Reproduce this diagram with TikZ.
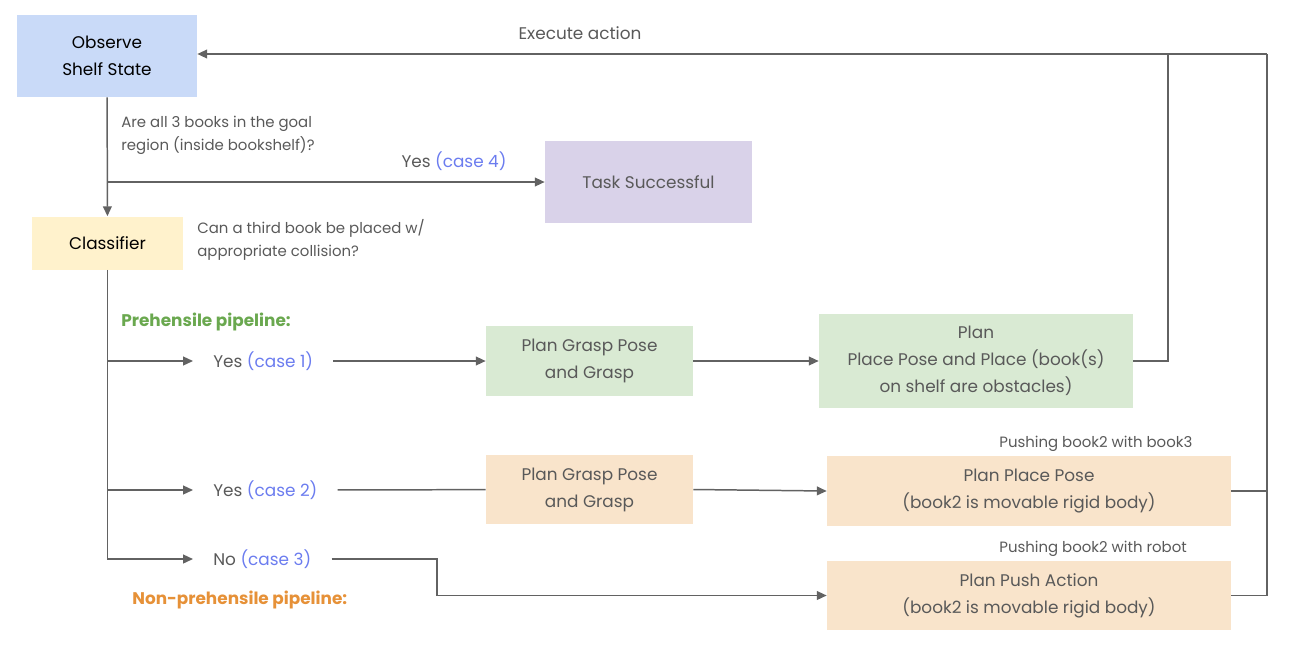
\documentclass[tikz,border=0pt]{standalone}
\usepackage{fontspec}
\setmainfont{Poppins}
\usepackage{tikz}
\usetikzlibrary{arrows.meta}

\definecolor{obsblue}{HTML}{C9DAF8}
\definecolor{clsyellow}{HTML}{FFF2CC}
\definecolor{succpurple}{HTML}{D9D2E9}
\definecolor{prehgreen}{HTML}{D9EAD3}
\definecolor{nonprehorange}{HTML}{F9E4CB}
\definecolor{txtgray}{HTML}{595959}
\definecolor{linegray}{HTML}{626262}
\definecolor{casecol}{HTML}{6B7CEF}
\definecolor{greenlbl}{HTML}{6AA84F}
\definecolor{orangelbl}{HTML}{E69138}

\newcommand{\mainsize}{\fontsize{9.6pt}{15.4pt}\selectfont}
\newcommand{\smallsize}{\fontsize{8.5pt}{13pt}\selectfont}
\newcommand{\case}[1]{\textcolor{casecol}{(case #1)}}

\begin{document}
\begin{tikzpicture}[x=0.02cm, y=-0.02cm,
    box/.style={rectangle, align=center, text=txtgray, font=\mainsize, inner sep=0pt},
    lbl/.style={text=txtgray, font=\smallsize, align=left, inner sep=0pt},
    choice/.style={text=txtgray, font=\mainsize, inner xsep=0.4cm, inner ysep=0pt},
    conn/.style={draw=linegray, line width=0.85pt},
    arr/.style={conn, -{Triangle[length=5.6pt, width=5pt]}}]
    \useasboundingbox (0,0) rectangle (1290,646);

    % Draw the boxes
    \node[box, fill=obsblue, text=black, minimum width=3.6cm, minimum height=1.64cm] (observe) at (107,56) {Observe\\Shelf State};
    \node[box, fill=clsyellow, text=black, minimum width=3.02cm, minimum height=1.06cm] (classifier) at (107.5,243) {Classifier};
    \node[box, fill=succpurple, minimum width=4.14cm, minimum height=1.64cm] (task) at (648.5,182) {Task Successful};
    \node[box, fill=prehgreen, minimum width=4.14cm, minimum height=1.4cm] (grasp1) at (589.5,361) {Plan Grasp Pose\\and Grasp};
    \node[box, fill=prehgreen, minimum width=6.28cm, minimum height=1.88cm] (place1) at (976,361) {Plan\\Place Pose and Place (book(s)\\on shelf are obstacles)};
    \node[box, fill=nonprehorange, minimum width=4.14cm, minimum height=1.38cm] (grasp2) at (589.5,489.5) {Plan Grasp Pose\\and Grasp};
    \node[box, fill=nonprehorange, minimum width=8.08cm, minimum height=1.4cm] (place2) at (1029,491) {Plan Place Pose\\(book2 is movable rigid body)};
    \node[box, fill=nonprehorange, minimum width=8.08cm, minimum height=1.38cm] (push) at (1029,595.5) {Plan Push Action\\(book2 is movable rigid body)};

    % Questions and labels
    \node[lbl, anchor=west] (goalq) at (121,135) {Are all 3 books in the goal\\region (inside bookshelf)?};
    \node[lbl, anchor=west] (placeq) at (197,240) {Can a third book be placed w/\\appropriate collision?};
    \node[text=txtgray, font=\mainsize] (yes4) at (454,161) {Yes \case{4}};
    \node[text=txtgray, font=\mainsize] (execute) at (580,33) {Execute action};
    \node[anchor=west, text=greenlbl, font=\mainsize\bfseries, inner sep=0pt] (prehlbl) at (121,322) {Prehensile pipeline:};
    \node[anchor=west, text=orangelbl, font=\mainsize\bfseries, inner sep=0pt] (nonprehlbl) at (132,600) {Non-prehensile pipeline:};
    \node[lbl, anchor=west] (pushbook) at (999,444) {Pushing book2 with book3};
    \node[lbl, anchor=west] (pushrobot) at (999,549) {Pushing book2 with robot};

    % Cases
    \node[choice, anchor=west] (yes1) at (193,361) {Yes \case{1}};
    \node[choice, anchor=west] (yes2) at (193,490) {Yes \case{2}};
    \node[choice, anchor=west] (no3) at (193,559) {No \case{3}};

    % Corners of the loop back
    \coordinate (loopin) at (1168,54);
    \coordinate (loopout) at (1267,54);
    \coordinate (bend) at (437,559);

    % Draw the connectors
    \draw[arr] (observe) -- (classifier);
    \draw[arr] (observe.south |- task) -- (task);
    \draw[arr] (classifier.south) |- (no3);
    \draw[arr] (classifier.south |- yes1) -- (yes1);
    \draw[arr] (classifier.south |- yes2) -- (yes2);
    \draw[arr] (yes1) -- (grasp1);
    \draw[arr] (grasp1) -- (place1);
    \draw[conn] (yes2) -- (grasp2);
    \draw[arr] (grasp2.east) -- (place2.west);
    \draw[arr] (no3.east) -- (bend) |- (push.west);
    \draw[arr] (place1.east) -| (loopin) -- (observe.east |- loopin);
    \draw[conn] (loopin) -- (loopout);
    \draw[conn] (place2.east) -| (loopout);
    \draw[conn] (push.east) -| (loopout);
\end{tikzpicture}
\end{document}
